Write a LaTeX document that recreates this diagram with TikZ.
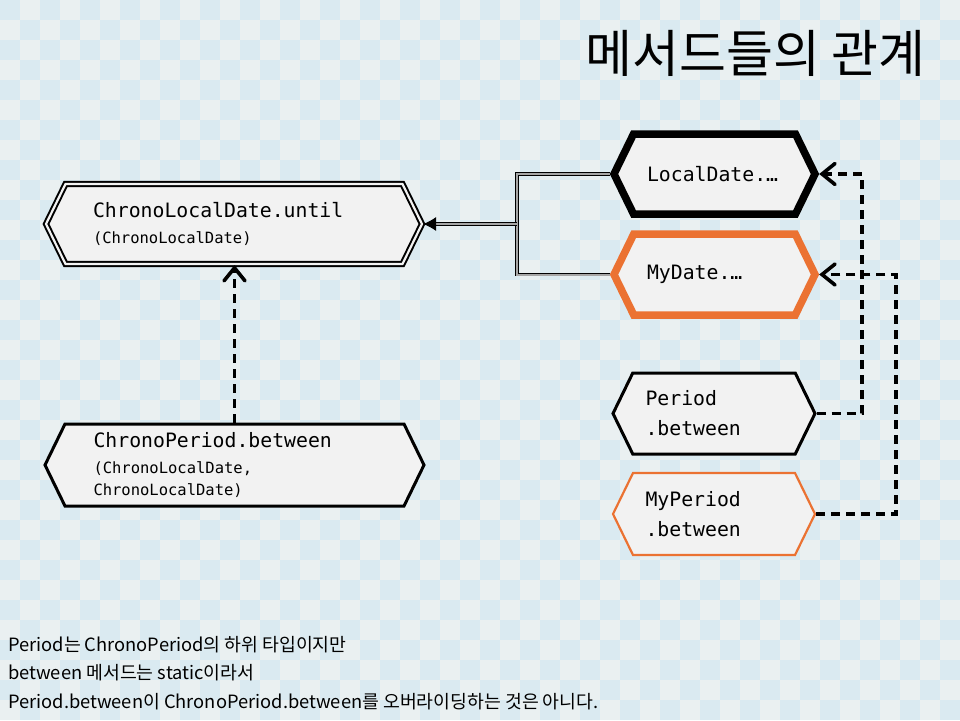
\documentclass[tikz,border=0pt]{standalone}
\usepackage{fontspec}
\setmainfont{Noto Sans CJK KR}
\setmonofont{DejaVu Sans Mono}
\usepackage{tikz}
\usetikzlibrary{positioning,arrows.meta,shapes.symbols,calc}
\usepackage{xcolor}
\definecolor{chkblue}{RGB}{218,234,241}
\definecolor{chklight}{RGB}{234,240,241}
\definecolor{boxgray}{HTML}{F2F2F2}
\definecolor{mine}{HTML}{EB7232}
\newcommand{\argsize}{\fontsize{15.5}{26}\selectfont}

\begin{document}
\begin{tikzpicture}[x=1pt, y=-1pt,
    hexbox/.style={shape=signal, signal to=west and east, signal pointer angle=128,
        fill=boxgray, draw=black, inner sep=0pt, align=left,
        font=\ttfamily\fontsize{19.8}{26}\selectfont},
    tree/.style={draw=black, line width=0.9pt, double=gray!70, double distance=2pt},
    dep/.style={draw=black, line width=3.6pt, dash pattern=on 9pt off 6pt,
        -{Straight Barb[length=13pt, width=21pt, line cap=round]}}]
    % Background checkers
    \fill[chklight] (0,0) rectangle (960,720);
    \foreach \i in {0,...,47}{
      \foreach \j in {0,...,35}{
        \ifodd\numexpr\i+\j\relax\else
          \fill[chkblue] (20*\i,20*\j) rectangle ++(20,20);
        \fi
      }
    }
    \useasboundingbox (0,0) rectangle (960,720);

    % Title
    \node[anchor=east, inner sep=0pt, font=\fontsize{51}{60}\selectfont] (title) at (926,53) {메서드들의 관계};

    % Interface side
    \node[hexbox, minimum width=376, minimum height=80, text width=282,
        draw=black, line width=2pt, double=boxgray, double distance=2.2pt] (until) at (234,224)
        {ChronoLocalDate.until\\{\argsize(ChronoLocalDate)}};
    \node[hexbox, minimum width=379, minimum height=82, text width=282, line width=3pt] (cpb) at (234.5,465)
        {ChronoPeriod.between\\{\argsize(ChronoLocalDate,}\\[-4pt]{\argsize ChronoLocalDate)}};

    % Date types
    \node[hexbox, minimum width=201, minimum height=80, text width=135, line width=7.5pt] (ld) at (714.5,174)
        {LocalDate.…};
    \node[hexbox, minimum width=201, minimum height=81, text width=135, line width=7.5pt, draw=mine] (md) at (714.5,274.5)
        {MyDate.…};

    % Period types
    \node[hexbox, minimum width=202, minimum height=81, text width=137, line width=3pt] (pb) at (714,413.5)
        {Period\\[4pt].between};
    \node[hexbox, minimum width=202, minimum height=82, text width=137, line width=2.2pt, draw=mine] (mpb) at (714,514)
        {MyPeriod\\[4pt].between};

    % Implements
    \coordinate (fork) at (517,224);
    \draw[tree] (ld.west) -| (fork);
    \draw[tree] (md.west) -| (fork);
    \draw[tree, -{Latex[length=13pt, width=14pt]}] (fork) -- (until.east);

    % Calls
    \draw[dep] (cpb.north) -- (cpb.north |- until.south);
    \coordinate (pbturn) at (862,413.5);
    \coordinate (mpbturn) at (896,514);
    \draw[dep] (pb.east) -- (pbturn) |- (ld.east);
    \draw[dep] (mpb.east) -- (mpbturn) |- (md.east);

    % Note
    \node[anchor=north west, inner sep=0pt, align=left, font=\fontsize{18.3}{28.5}\selectfont] (note) at (8,636)
        {Period는 ChronoPeriod의 하위 타입이지만\\
         between 메서드는 static이라서\\
         Period.between이 ChronoPeriod.between를 오버라이딩하는 것은 아니다.};
\end{tikzpicture}
\end{document}
